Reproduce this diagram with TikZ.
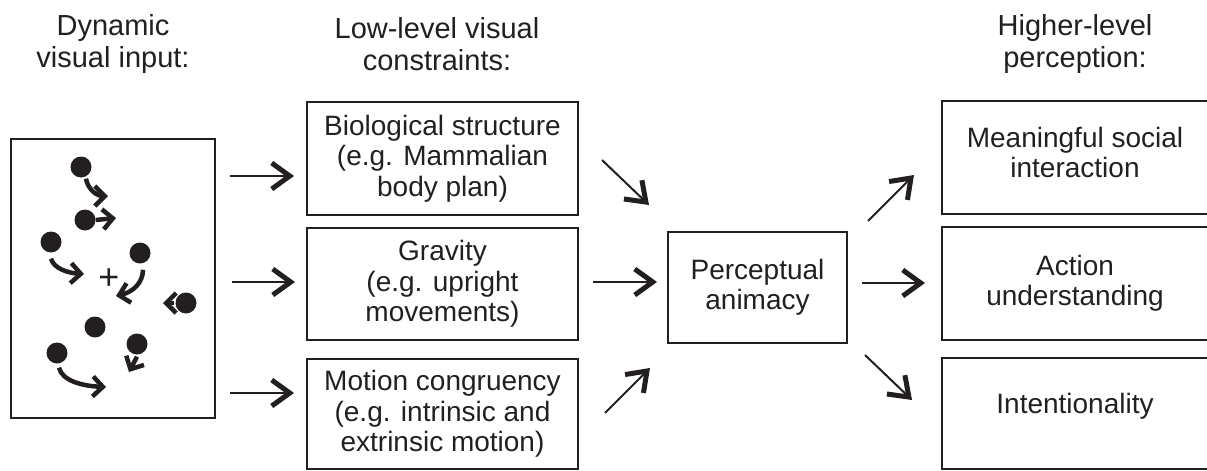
\documentclass[tikz,border=0pt]{standalone}
\usepackage{fontspec}
\setmainfont{Liberation Sans}
\usetikzlibrary{arrows.meta}
\definecolor{ink}{HTML}{231F20}
\begin{document}
\begin{tikzpicture}[x=1pt,y=-1pt,
  txtfont/.style={font=\fontsize{28}{30.5}\selectfont},
  box/.style={draw=ink, line width=2pt, inner sep=0pt, align=center, txtfont, text=ink},
  inbox/.style={align=center, txtfont, text=ink, inner sep=0pt},
  hdr/.style={align=center, font=\fontsize{29}{32}\selectfont, text=ink, inner sep=0pt},
  bigarrow/.style={draw=ink, line width=2pt, -{Straight Barb[length=18pt,width=26pt,line width=5pt]}},
  smallarrow/.style={draw=ink, line width=4.5pt, -{Straight Barb[length=10pt,width=20pt,line width=4.5pt]}},
  dot/.style={circle, fill=ink, minimum size=21pt, inner sep=0pt}
]
\useasboundingbox (0,0) rectangle (1207,471);

% headers
\node[hdr] (h1) at (113,44) {Dynamic\\visual input:};
\node[hdr] (h2) at (437,44) {Low-level visual\\constraints:};
\node[hdr] (h3) at (1075,44) {Higher-level\\perception:};

% left input box
\node[box, minimum width=204pt, minimum height=279pt] (input) at (113,278.5) {};

% dots
\node[dot] (d1) at (81,167) {};
\node[dot] (d2) at (85,220) {};
\node[dot] (d3) at (51,242) {};
\node[dot] (d4) at (140,253) {};
\node[dot] (d5) at (186,303) {};
\node[dot] (d6) at (95,327) {};
\node[dot] (d7) at (137,344) {};
\node[dot] (d8) at (57,353) {};
\node[text=ink, inner sep=0pt, font=\fontsize{36}{36}\selectfont] (fix) at (109,279) {+};

% small motion arrows
\coordinate (a1e) at (108,196);
\coordinate (a2e) at (116,218);
\coordinate (a3e) at (84,274);
\coordinate (a5e) at (116,296);
\coordinate (a6e) at (163,303);
\coordinate (a7e) at (129,372);
\coordinate (a8e) at (106,387);
\draw[smallarrow] (d1.south) ++(5,1) .. controls +(2,11) and (97,196) .. (a1e);
\draw[smallarrow] (d2.east) -- (a2e);
\draw[smallarrow] (d3.south) ++(0,6) .. controls +(3,10) and (68,273) .. (a3e);
\draw[smallarrow] (d4.south) ++(3,6) .. controls +(0,13) and (133,292) .. (a5e);
\draw[smallarrow] (d5.west) ++(-1,0) -- (a6e);
\draw[smallarrow] (d7.south) ++(0,2) -- (a7e);
\draw[smallarrow] (d8.south) ++(2,4) .. controls +(3,13) and (82,386) .. (a8e);

% middle column boxes
\node[box, minimum width=271pt, minimum height=113pt] (bio) at (442.5,158.5) {Biological structure\\(e.g. Mammalian\\body plan)};
\node[box, minimum width=271pt, minimum height=112pt] (grav) at (442.5,284) {Gravity\\(e.g. upright\\movements)};
\node[box, minimum width=271pt, minimum height=110pt] (mot) at (442.5,414) {Motion congruency\\(e.g. intrinsic and\\extrinsic motion)};

% perceptual animacy
\node[box, minimum width=179pt, minimum height=111pt] (anim) at (757.5,287.5) {Perceptual\\animacy};

% right column boxes
\node[box, minimum width=266pt, minimum height=113pt] (soc) at (1075,157.5) {};
\node[inbox] (soct) at ([yshift=5pt]soc.center) {Meaningful social\\interaction};
\node[box, minimum width=266pt, minimum height=113pt] (act) at (1075,283.5) {Action\\understanding};
\node[box, minimum width=266pt, minimum height=111pt] (intent) at (1075,413.5) {};
\node[inbox] (intentt) at ([yshift=7pt]intent.center) {Intentionality};

% big arrows, left
\coordinate (l1s) at (230,176); \coordinate (l1e) at (294,176);
\coordinate (l2s) at (232,282); \coordinate (l2e) at (295,282);
\coordinate (l3s) at (230,393); \coordinate (l3e) at (294,393);
\draw[bigarrow] (l1s) -- (l1e);
\draw[bigarrow] (l2s) -- (l2e);
\draw[bigarrow] (l3s) -- (l3e);

% big arrows, middle
\coordinate (m1s) at (602,160); \coordinate (m1e) at (649,205);
\coordinate (m2s) at (593,282); \coordinate (m2e) at (657,282);
\coordinate (m3s) at (605,413); \coordinate (m3e) at (650,368);
\draw[bigarrow] (m1s) -- (m1e);
\draw[bigarrow] (m2s) -- (m2e);
\draw[bigarrow] (m3s) -- (m3e);

% big arrows, right
\coordinate (r1s) at (868,221); \coordinate (r1e) at (914,175);
\coordinate (r2s) at (862,283); \coordinate (r2e) at (925,283);
\coordinate (r3s) at (865,355); \coordinate (r3e) at (912,400);
\draw[bigarrow] (r1s) -- (r1e);
\draw[bigarrow] (r2s) -- (r2e);
\draw[bigarrow] (r3s) -- (r3e);
\end{tikzpicture}
\end{document}
